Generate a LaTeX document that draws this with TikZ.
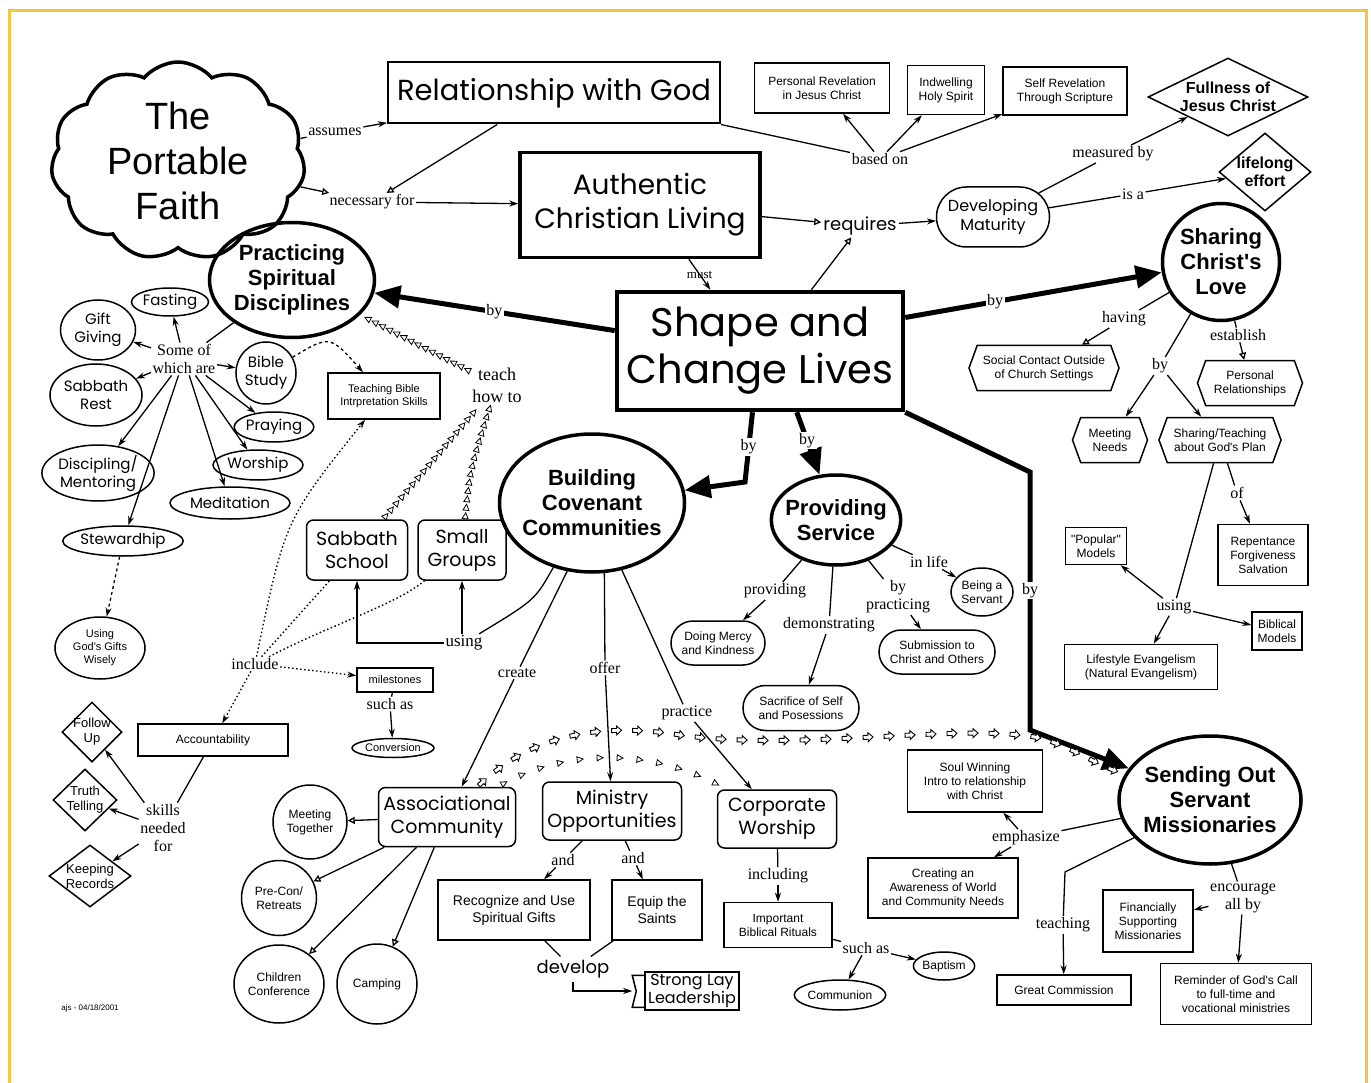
\documentclass[tikz,border=0pt]{standalone}
\usepackage{fontspec}
\setmainfont{Liberation Serif}
\newfontfamily\gothic{Poppins}
\newfontfamily\arial{Liberation Sans}
\newcommand\fs[2]{\fontsize{#1}{#2}\selectfont}
\usetikzlibrary{arrows.meta, calc, decorations.markings, positioning, shapes}
\definecolor{framegold}{RGB}{243,197,66}

\begin{document}
\begin{tikzpicture}[
	x=1pt, y=-1pt,
	every node/.style = {align=center},
	concept/.style = {draw, line width=1.5pt, inner sep=2pt},
	major/.style = {draw, ellipse, line width=3.5pt, inner sep=-5pt, font=\arial\bfseries\fs{22}{25}},
	main box/.style = {draw, line width=3.5pt, font=\gothic\fs{28}{34}},
	round box/.style = {concept, rounded corners=7pt, font=\gothic\fs{19}{23}},
	small box/.style = {concept, font=\arial\fs{12}{14}},
	oval/.style = {concept, ellipse, inner sep=0pt, font=\gothic\fs{15}{18}},
	pill/.style = {concept, rounded rectangle, font=\arial\fs{12}{14}},
	hexa/.style = {concept, signal, signal to=east and west, signal pointer angle=140, inner sep=1pt, font=\arial\fs{12}{14}},
	gem/.style = {concept, diamond, inner sep=-4pt, font=\arial\fs{13}{15}},
	link/.style = {inner sep=1.5pt, font=\fs{16}{18}},
	arrow/.style = {line width=1.3pt, -{Stealth[length=9pt, width=6pt]}},
	open arrow/.style = {line width=1.3pt, -{Triangle[open, length=7pt, width=7pt]}},
	plain/.style = {line width=1.3pt},
	dots/.style = {line width=1.4pt, dash pattern=on 1.5pt off 2.5pt},
	big arrow/.style = {line width=5pt, -{Triangle[length=26pt, width=22pt]}},
	tri chain/.style = {decorate, decoration={markings, mark=between positions 0.03 and 0.97 step #1 with {\draw[line width=0.8pt, fill=white] (-3pt,-3pt) -- (3pt,0pt) -- (-3pt,3pt) -- cycle;}}},
	block chain/.style = {decorate, decoration={markings, mark=between positions 0.01 and 0.99 step 21pt with {\draw[line width=0.9pt, fill=white] (-5pt,-2pt) -- (0pt,-2pt) -- (0pt,-4.5pt) -- (5pt,0pt) -- (0pt,4.5pt) -- (0pt,2pt) -- (-5pt,2pt) -- cycle;}}}
]

\useasboundingbox (0,0) rectangle (1371,1083);
\draw[framegold, line width=3pt] (9,1083) -- (9,11) -- (1366,11) -- (1366,1083);

\node[cloud, draw, line width=3.5pt, cloud puffs=11, cloud puff arc=100, cloud ignores aspect, inner sep=-12pt, minimum width=254pt, minimum height=198pt, font=\arial\fs{38}{45}] (faith) at (178,161) {The\\Portable\\Faith};
\node[concept, line width=2pt, font=\gothic\fs{29}{31}, minimum width=332pt, minimum height=61pt] (relation) at (554,93) {Relationship with God};
\node[main box, minimum width=240pt, minimum height=105pt] (authentic) at (640,205) {Authentic\\Christian Living};
\node[draw, line width=4.5pt, font=\gothic\fs{40}{47}, minimum width=286pt, minimum height=118pt] (change) at (760,351) {Shape and\\Change Lives};
\node[small box, minimum width=135pt, minimum height=50pt] (revelation) at (822,88) {Personal Revelation\\in Jesus Christ};
\node[small box, minimum width=77pt, minimum height=49pt] (indwelling) at (946,90) {Indwelling\\Holy Spirit};
\node[small box, minimum width=124pt, minimum height=48pt] (scripture) at (1065,91) {Self Revelation\\Through Scripture};
\node[gem, aspect=2.05, font=\arial\bfseries\fs{16}{18}, minimum width=160pt, minimum height=78pt] (fullness) at (1228,97) {Fullness of\\Jesus Christ};
\node[gem, aspect=1.2, font=\arial\bfseries\fs{16}{18}, minimum width=92pt, minimum height=78pt] (lifelong) at (1265,172) {lifelong\\effort};
\node[concept, rounded rectangle, font=\gothic\fs{16}{19}, minimum width=117pt, minimum height=60pt] (maturity) at (993,217) {Developing\\Maturity};
\node[font=\gothic\fs{18}{20}, inner sep=2pt] (requires) at (860,226) {requires};
\node[link] (assumes) at (335,132) {assumes};
\node[link] (necessary) at (372,202) {necessary for};
\node[link] (based) at (880,159) {based on};
\node[link] (measured) at (1113,154) {measured by};
\node[link] (isa) at (1133,194) {is a};

\draw[plain] (faith) -- (assumes);
\draw[arrow] (assumes) -- (relation);
\draw[open arrow] (relation.209) -- (necessary);
\draw[open arrow] (faith) -- (necessary);
\draw[arrow] (necessary) -- (authentic);
\draw[plain] (relation.south east) -- (based);
\foreach \target in {revelation, indwelling, scripture}
	\draw[arrow] (based) -- (\target);
\draw[open arrow] (authentic) -- (requires);
\draw[arrow] (requires) -- (maturity);
\draw[open arrow] (change.50) -- (requires);
\draw[plain] (maturity) -- (measured);
\draw[arrow] (measured) -- (fullness);
\draw[plain] (maturity) -- (isa);
\draw[arrow] (isa) -- (lifelong);
\draw[arrow] (authentic.-48) -- node[link, font=\fs{13}{14}] (must) {must} (change.129);

\node[major, minimum width=165pt, minimum height=115pt] (practicing) at (292,280) {Practicing\\Spiritual\\Disciplines};
\node[major, circle, minimum size=117pt] (sharing) at (1221,262) {Sharing\\Christ's\\Love};
\node[major, minimum width=185pt, minimum height=138pt] (building) at (592,503) {Building\\Covenant\\Communities};
\node[major, minimum width=128pt, minimum height=90pt] (providing) at (836,520) {Providing\\Service};
\node[major, minimum width=182pt, minimum height=128pt] (sending) at (1210,800) {Sending Out\\Servant\\Missionaries};

\coordinate (bend1) at (745,482);
\coordinate (bend2) at (1030,472);
\coordinate (bend3) at (1030,730);
\draw[big arrow] (change.172) -- node[link, fill=white] (by1) {by} (practicing);
\draw[big arrow] (change.13) -- node[link, fill=white, pos=0.35] (by2) {by} (sharing);
\draw[big arrow] (change.-97) -- node[link, fill=white] (by3) {by} (bend1) -- (building);
\draw[big arrow] (change.-59) -- node[link, fill=white, pos=0.45] (by4) {by} (providing);
\draw[big arrow] (change.south east) -- (bend2) -- node[link, fill=white, pos=0.46] (by5) {by} (bend3) -- (sending);

\node[link] (someof) at (184,359) {Some of\\which are};
\node[oval, minimum width=70pt, minimum height=28pt] (fasting) at (170,302) {Fasting};
\node[oval, minimum width=75pt, minimum height=60pt] (gift) at (98,330) {Gift\\Giving};
\node[oval, minimum width=92pt, minimum height=62pt] (rest) at (96,395) {Sabbath\\Rest};
\node[oval, minimum width=106pt, minimum height=56pt] (discipling) at (98,473) {Discipling/\\Mentoring};
\node[oval, minimum width=120pt, minimum height=30pt] (stewardship) at (123,541) {Stewardhip};
\node[oval, minimum width=120pt, minimum height=32pt] (meditation) at (230,503) {Meditation};
\node[oval, minimum width=90pt, minimum height=30pt] (worship) at (258,465) {Worship};
\node[oval, minimum width=76pt, minimum height=30pt] (praying) at (274,427) {Praying};
\node[oval, minimum width=56pt, minimum height=62pt] (bible) at (266,373) {Bible\\Study};
\node[small box, font=\arial\fs{11}{13}, minimum width=112pt, minimum height=46pt] (teaching) at (384,396) {Teaching Bible\\Intrpretation Skills};
\node[concept, ellipse, inner sep=0pt, font=\arial\fs{11}{13}, minimum width=90pt, minimum height=62pt] (wisely) at (100,648) {Using\\God's Gifts\\Wisely};

\draw[plain] (practicing) -- (someof);
\foreach \target in {fasting, gift, rest, discipling, stewardship, meditation, worship, praying, bible}
	\draw[arrow] (someof) -- (\target);
\draw[arrow, dashed] (bible) .. controls (330,335) .. (teaching);
\draw[arrow, dashed] (stewardship) -- (wisely);

\node[link, font=\fs{18}{22}] (teach) at (497,385) {teach\\how to};
\node[round box, minimum width=101pt, minimum height=60pt] (school) at (357,550) {Sabbath\\School};
\node[round box, minimum width=88pt, minimum height=60pt] (groups) at (462,550) {Small\\Groups};
\path[tri chain=8pt] (teach) -- (practicing);
\path[tri chain=8.5pt] (school) -- (teach);
\path[tri chain=8.5pt] (groups) .. controls (470,470) .. (teach);

\node[link, font=\fs{17}{19}] (using) at (464,643) {using};
\draw[plain] (building.-121) .. controls (535,600) .. (using);
\draw[arrow] (using) -| (school);
\draw[arrow] (using.north -| groups) -- (groups);

\node[link] (include) at (255,664) {include};
\node[small box, font=\arial\fs{11}{13}, minimum width=76pt, minimum height=24pt] (milestones) at (395,680) {milestones};
\node[link] (suchas) at (390,704) {such as};
\node[oval, font=\arial\fs{11}{13}, minimum width=82pt, minimum height=19pt] (conversion) at (393,748) {Conversion};
\node[small box, minimum width=150pt, minimum height=32pt] (accountability) at (213,740) {Accountability};
\draw[dots, arrow] (include) .. controls (285,520) .. (teaching);
\draw[dots] (include) -- (school);
\draw[dots] (include) .. controls (330,625) and (395,605) .. (groups);
\draw[dots, arrow] (include) -- (milestones);
\draw[dots, arrow] (include) -- (accountability);
\draw[plain] (milestones) -- (suchas);
\draw[arrow] (suchas) -- (conversion);

\node[link] (skills) at (163,828) {skills\\needed\\for};
\node[gem, minimum width=60pt, minimum height=60pt] (followup) at (92,732) {Follow\\Up};
\node[gem, minimum width=64pt, minimum height=62pt] (truth) at (85,800) {Truth\\Telling};
\node[gem, aspect=1.3, minimum width=82pt, minimum height=62pt] (records) at (90,876) {Keeping\\Records};
\draw[plain] (accountability) -- (skills);
\foreach \target in {followup, truth, records}
	\draw[arrow] (skills) -- (\target);
\node[font=\arial\fs{8}{9}] (stamp) at (90,1008) {ajs - 04/18/2001};

\node[link] (create) at (517,673) {create};
\node[link] (offer) at (605,668) {offer};
\node[link] (practice) at (687,713) {practice};
\node[round box, minimum width=137pt, minimum height=59pt] (associational) at (447,817) {Associational\\Community};
\node[round box, minimum width=139pt, minimum height=58pt] (ministry) at (612,811) {Ministry\\Opportunities};
\node[round box, minimum width=119pt, minimum height=58pt] (corporate) at (777,819) {Corporate\\Worship};
\draw[plain] (building.-110) -- (create);
\draw[arrow] (create) -- (associational);
\draw[plain] (building.-80) -- (offer);
\draw[arrow] (offer) -- (ministry);
\draw[plain] (building.-66) -- (practice);
\draw[arrow] (practice) -- (corporate);

\path[block chain] (associational) .. controls (530,735) and (600,722) .. (680,735) .. controls (800,752) and (960,722) .. (1040,738) .. controls (1075,748) and (1095,765) .. (sending);
\path[tri chain=20pt] (associational) .. controls (560,750) and (650,745) .. (corporate);

\node[concept, circle, inner sep=0pt, minimum size=74pt, font=\arial\fs{12}{14}] (together) at (310,822) {Meeting\\Together};
\node[concept, circle, inner sep=0pt, minimum size=75pt, font=\arial\fs{12}{14}] (retreats) at (279,898) {Pre-Con/\\Retreats};
\node[concept, ellipse, inner sep=0pt, minimum width=90pt, minimum height=78pt, font=\arial\fs{12}{14}] (children) at (279,984) {Children\\Conference};
\node[concept, circle, inner sep=0pt, minimum size=80pt, font=\arial\fs{12}{14}] (camping) at (377,984) {Camping};
\foreach \target in {together, retreats, children, camping}
	\draw[open arrow] (associational) -- (\target);

\node[link] (and1) at (563,860) {and};
\node[link] (and2) at (633,858) {and};
\node[small box, font=\arial\fs{14}{17}, minimum width=152pt, minimum height=60pt] (recognize) at (514,910) {Recognize and Use\\Spiritual Gifts};
\node[small box, font=\arial\fs{14}{17}, minimum width=90pt, minimum height=60pt] (equip) at (657,910) {Equip the\\Saints};
\draw[plain] (ministry) -- (and1);
\draw[arrow] (and1) -- (recognize);
\draw[plain] (ministry) -- (and2);
\draw[arrow] (and2) -- (equip);
\node[font=\gothic\fs{18}{20}] (develop) at (573,969) {develop};
\node[concept, font=\gothic\fs{16}{18}, inner sep=1pt, minimum width=94pt, minimum height=38pt] (leadership) at (692,991) {Strong Lay\\Leadership};
\draw[concept] (leadership.north west) ++(0,4) -- ++(-12,0) -- ++(4,16) -- ++(-4,16) -- ++(12,0);
\draw[plain] (recognize) -- (develop);
\draw[plain] (equip) -- (develop);
\draw[arrow, shorten >=12pt] (develop) |- (leadership);

\node[link] (including) at (778,876) {including};
\node[small box, minimum width=108pt, minimum height=45pt] (rituals) at (778,925) {Important\\Biblical Rituals};
\node[link] (suchas2) at (866,948) {such as};
\node[oval, font=\arial\fs{12}{14}, minimum width=90pt, minimum height=30pt] (communion) at (840,995) {Communion};
\node[oval, font=\arial\fs{12}{14}, minimum width=60pt, minimum height=28pt] (baptism) at (944,966) {Baptism};
\draw[plain] (corporate) -- (including);
\draw[arrow] (including) -- (rituals);
\draw[plain] (rituals) -- (suchas2);
\draw[arrow] (suchas2) -- (communion);
\draw[arrow] (suchas2) -- (baptism);

\node[link] (lprov) at (775,591) {providing};
\node[pill, minimum width=98pt, minimum height=44pt] (mercy) at (718,643) {Doing Mercy\\and Kindness};
\node[link] (demonstrating) at (829,625) {demonstrating};
\node[pill, minimum width=120pt, minimum height=45pt] (sacrifice) at (801,708) {Sacrifice of Self\\and Posessions};
\node[link] (bypractice) at (898,597) {by\\practicing};
\node[pill, minimum width=120pt, minimum height=44pt] (submission) at (937,652) {Submission to\\Christ and Others};
\node[link] (inlife) at (929,562) {in life};
\node[concept, ellipse, inner sep=0pt, minimum width=62pt, minimum height=48pt, font=\arial\fs{12}{14}] (servant) at (982,592) {Being a\\Servant};
\draw[plain] (providing) -- (lprov);
\draw[arrow] (lprov) -- (mercy);
\draw[plain] (providing) -- (demonstrating);
\draw[arrow] (demonstrating) -- (sacrifice);
\draw[plain] (providing) -- (bypractice);
\draw[arrow] (bypractice) -- (submission);
\draw[plain] (providing) -- (inlife);
\draw[arrow] (inlife) -- (servant);

\node[link] (having) at (1124,319) {having};
\node[hexa, minimum width=150pt, minimum height=45pt] (social) at (1044,368) {Social Contact Outside\\of Church Settings};
\node[link] (establish) at (1238,335) {establish};
\node[hexa, minimum width=105pt, minimum height=45pt] (personal) at (1250,383) {Personal\\Relationships};
\node[link] (byway) at (1160,366) {by};
\node[hexa, minimum width=75pt, minimum height=45pt] (needs) at (1110,440) {Meeting\\Needs};
\node[hexa, minimum width=122pt, minimum height=45pt] (plan) at (1220,440) {Sharing/Teaching\\about God's Plan};
\node[link] (of) at (1237,493) {of};
\node[small box, minimum width=90pt, minimum height=61pt] (repentance) at (1263,555) {Repentance\\Forgiveness\\Salvation};
\node[link] (using2) at (1174,607) {using};
\node[small box, minimum width=61pt, minimum height=37pt] (popular) at (1096,546) {"Popular"\\Models};
\node[small box, minimum width=50pt, minimum height=38pt] (biblical) at (1277,631) {Biblical\\Models};
\node[small box, minimum width=153pt, minimum height=45pt] (lifestyle) at (1141,667) {Lifestyle Evangelism\\(Natural Evangelism)};
\draw[plain] (sharing) -- (having);
\draw[open arrow] (having) -- (social);
\draw[plain] (sharing) -- (establish);
\draw[open arrow] (establish) -- (personal);
\draw[plain] (sharing) -- (byway);
\draw[arrow] (byway) -- (needs);
\draw[arrow] (byway) -- (plan);
\draw[plain] (plan) -- (of);
\draw[arrow] (of) -- (repentance);
\draw[plain] (plan) -- (using2);
\foreach \target in {popular, biblical, lifestyle}
	\draw[arrow] (using2) -- (\target);

\node[small box, minimum width=135pt, minimum height=62pt] (soul) at (975,781) {Soul Winning\\Intro to relationship\\with Christ};
\node[link] (emphasize) at (1026,838) {emphasize};
\node[small box, minimum width=150pt, minimum height=60pt] (awareness) at (943,888) {Creating an\\Awareness of World\\and Community Needs};
\coordinate (bend4) at (1065,872);
\node[link] (teaching2) at (1063,925) {teaching};
\node[small box, minimum width=134pt, minimum height=30pt] (commission) at (1064,990) {Great Commission};
\node[link] (encourage) at (1243,898) {encourage\\all by};
\node[small box, minimum width=90pt, minimum height=62pt] (financially) at (1148,921) {Financially\\Supporting\\Missionaries};
\node[small box, minimum width=151pt, minimum height=61pt] (reminder) at (1236,994) {Reminder of God's Call\\to full-time and\\vocational ministries};
\draw[plain] (sending) -- (emphasize);
\draw[arrow] (emphasize) -- (soul);
\draw[arrow] (emphasize) -- (awareness);
\draw[plain] (sending) -- (bend4) -- (teaching2);
\draw[arrow] (teaching2) -- (commission);
\draw[plain] (sending) -- (encourage);
\draw[arrow] (encourage) -- (financially);
\draw[arrow] (encourage) -- (reminder);

\end{tikzpicture}
\end{document}
